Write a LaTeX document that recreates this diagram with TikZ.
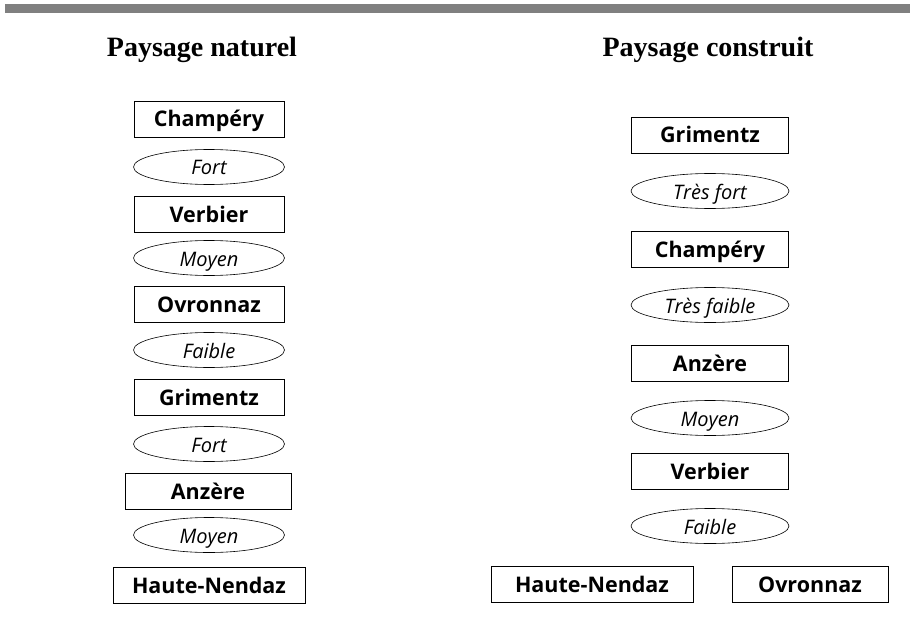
\documentclass[tikz,border=0pt]{standalone}
\usepackage{fontspec}
\setmainfont{Liberation Serif}
\newfontfamily\labelsans{Open Sans}
\usetikzlibrary{shapes.geometric}

\definecolor{barGray}{HTML}{808080}

\newcommand{\sitefont}{\labelsans\bfseries\fontsize{21.5}{25}\selectfont}
\newcommand{\levelfont}{\labelsans\itshape\fontsize{20}{24}\selectfont}
\newcommand{\headfont}{\bfseries\fontsize{28}{33}\selectfont}

\tikzset{
  site/.style={draw, line width=0.8pt, minimum height=36, minimum width=150,
               inner sep=0, text height=16, text depth=0, font=\sitefont},
  level/.style={ellipse, draw, line width=0.6pt, minimum width=151,
                minimum height=35, inner sep=0, text height=16, text depth=0,
                font=\levelfont},
  heading/.style={anchor=base, inner sep=0, font=\headfont},
}

\begin{document}
\begin{tikzpicture}[x=1pt, y=-1pt]
  \useasboundingbox (0,0) rectangle (912,639);

  % top rule
  \fill[barGray] (5,4) rectangle (910,13);

  % column headings
  \node[heading] (hNat) at (202,57) {Paysage naturel};
  \node[heading] (hCon) at (708,57) {Paysage construit};

  % natural landscape ranking
  \node[site] (n1) at (209,119) {Champéry};
  \node[level] (l1) at (209,167) {Fort};
  \node[site] (n2) at (209,214) {Verbier};
  \node[level] (l2) at (209,258) {Moyen};
  \node[site] (n3) at (209,304) {Ovronnaz};
  \node[level] (l3) at (209,350) {Faible};
  \node[site] (n4) at (209,397) {Grimentz};
  \node[level] (l4) at (209,444) {Fort};
  \node[site, minimum width=166] (n5) at (208,491) {Anzère};
  \node[level] (l5) at (209,535) {Moyen};
  \node[site, minimum width=192] (n6) at (209,585.5) {Haute-Nendaz};

  % built landscape ranking
  \begin{scope}[every node/.append style={minimum height=38}]
    \node[site, minimum width=157] (c1) at (710,135) {Grimentz};
    \node[level, minimum width=158] (k1) at (710,191) {Très fort};
    \node[site, minimum width=157] (c2) at (710,249) {Champéry};
    \node[level, minimum width=158] (k2) at (710,305) {Très faible};
    \node[site, minimum width=157] (c3) at (710,363) {Anzère};
    \node[level, minimum width=158] (k3) at (710,418) {Moyen};
    \node[site, minimum width=157] (c4) at (710,471) {Verbier};
    \node[level, minimum width=158] (k4) at (710,526) {Faible};
    \node[site, minimum width=202] (c5) at (592,584) {Haute-Nendaz};
    \node[site, minimum width=156] (c6) at (810,584) {Ovronnaz};
  \end{scope}
\end{tikzpicture}
\end{document}
